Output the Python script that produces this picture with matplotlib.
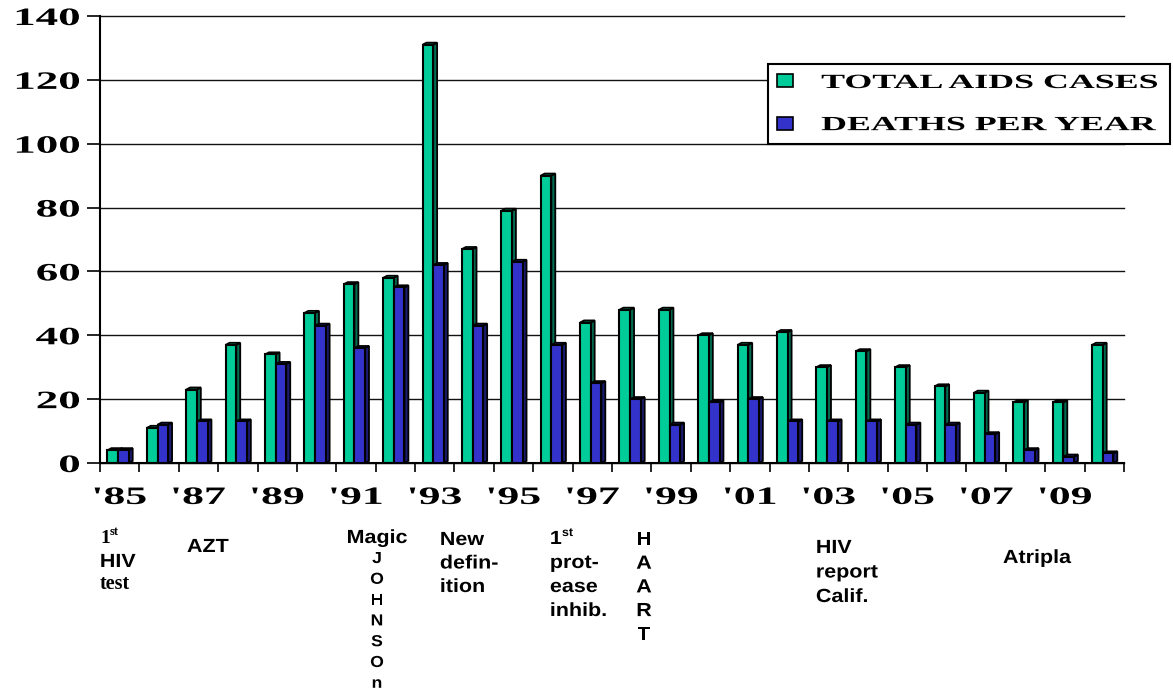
import matplotlib
matplotlib.use('Agg')
import matplotlib.pyplot as plt
import numpy as np
from matplotlib.patches import Polygon, Patch
from matplotlib.patheffects import AbstractPathEffect
from matplotlib.transforms import Affine2D

# ---------------- data ----------------
years = list(range(1985, 2011))
total_cases = [4, 11, 23, 37, 34, 47, 56, 58, 131, 67, 79, 90, 44, 48, 48,
               40, 37, 41, 30, 35, 30, 24, 22, 19, 19, 37]
deaths = [4, 12, 13, 13, 31, 43, 36, 55, 62, 43, 63, 37, 25, 20, 12,
          19, 20, 13, 13, 13, 12, 12, 9, 4, 2, 3]
series_names = ['TOTAL AIDS CASES', 'DEATHS PER YEAR']
year_labels = ["'85", "'87", "'89", "'91", "'93", "'95", "'97",
               "'99", "'01", "'03", "'05", "'07", "'09"]
y_ticks = [0, 20, 40, 60, 80, 100, 120, 140]

# ---------------- style ----------------
W, H = 1173, 692
GREEN, GREEN_SIDE = '#00CC99', '#006B50'
BLUE, BLUE_SIDE = '#3333CC', '#1A1A70'
SERIF = 'Liberation Serif'
SANS = 'Liberation Sans'


class HStretch(AbstractPathEffect):
    """Draw text glyphs stretched horizontally about an anchor."""
    def __init__(self, sx, anchor='center'):
        super().__init__()
        self.sx = sx
        self.anchor = anchor

    def draw_path(self, renderer, gc, tpath, affine, rgbFace=None):
        bb = tpath.get_extents(affine)
        if self.anchor == 'left':
            a = bb.x0
        elif self.anchor == 'right':
            a = bb.x1
        else:
            a = 0.5 * (bb.x0 + bb.x1)
        t = affine + Affine2D().translate(-a, 0).scale(self.sx, 1).translate(a, 0)
        renderer.draw_path(gc, tpath, t, rgbFace)


fig = plt.figure(figsize=(W / 100, H / 100), dpi=100)
ax = fig.add_axes([100 / W, (H - 463) / H, 1024 / W, 447 / H])

x = np.arange(len(years))
bw = 0.27          # front face width (category units)
dx, dy = 0.10, 0.65  # 3-D depth offsets


def bars3d(offset, vals, front, side, z):
    for xi, v in zip(x, vals):
        x0 = xi + offset
        ax.add_patch(Polygon([(x0 + bw, 0), (x0 + bw + dx, dy),
                              (x0 + bw + dx, v + dy), (x0 + bw, v)],
                             closed=True, fc=side, ec='black', lw=1.3, zorder=z))
        ax.add_patch(Polygon([(x0, v), (x0 + dx, v + dy),
                              (x0 + bw + dx, v + dy), (x0 + bw, v)],
                             closed=True, fc=front, ec='black', lw=1.3, zorder=z))
    ax.bar(x + offset, vals, width=bw, align='edge', color=front,
           edgecolor='black', linewidth=1.5, zorder=z + 0.1)


bars3d(0.19, total_cases, GREEN, GREEN_SIDE, 2)
bars3d(0.19 + bw, deaths, BLUE, BLUE_SIDE, 3)

ax.set_xlim(0, len(years))
ax.set_ylim(0, 140)

# grid + spines
ax.set_axisbelow(True)
ax.yaxis.grid(True, color='#111111', lw=1.0)
for gl in ax.get_ygridlines():
    gl.set_clip_on(False)
for s in ['top', 'right']:
    ax.spines[s].set_visible(False)
for s in ['left', 'bottom']:
    ax.spines[s].set_linewidth(1.5)
    ax.spines[s].set_color('black')

# y ticks
ax.set_yticks(y_ticks)
ax.set_yticklabels([str(v) for v in y_ticks], fontfamily=SERIF,
                   fontweight='bold', fontsize=18)
ax.tick_params(axis='y', direction='out', length=9.4, width=1.2, pad=5)
for lbl in ax.get_yticklabels():
    lbl.set_path_effects([HStretch(1.8, 'right')])

# x ticks: boundaries (major) + labels at centres (minor)
ax.set_xticks(np.arange(len(years) + 1))
ax.set_xticklabels([])
ax.tick_params(axis='x', which='major', direction='out', length=6.5, width=1.2)
label_pos = [i + 0.5 for i, yr in enumerate(years) if (yr - years[0]) % 2 == 0]
ax.set_xticks(label_pos, minor=True)
ax.set_xticklabels(year_labels, minor=True, fontfamily=SERIF,
                   fontweight='bold', fontsize=18)
ax.tick_params(axis='x', which='minor', length=0, pad=16.5)
for lbl in ax.get_xticklabels(minor=True):
    lbl.set_path_effects([HStretch(1.75, 'center')])

# legend
handles = [Patch(facecolor=GREEN, edgecolor='black', lw=1.2, label=series_names[0]),
           Patch(facecolor=BLUE, edgecolor='black', lw=1.2, label=series_names[1])]
leg = fig.legend(handles=handles, loc='upper left',
                 bbox_to_anchor=(768 / W, 1 - 64 / H, 402 / W, 0.0001),
                 mode='expand', borderaxespad=0, borderpad=0.45,
                 handlelength=0.8, handleheight=0.62, handletextpad=1.4,
                 labelspacing=1.1, fancybox=False, framealpha=1,
                 prop={'family': SERIF, 'weight': 'bold', 'size': 14.5})
leg.get_frame().set_edgecolor('black')
leg.get_frame().set_linewidth(1.5)
for t in leg.get_texts():
    t.set_path_effects([HStretch(1.78, 'left')])


# ---------------- event notes below the axis ----------------
def ftxt(px, py, s, family=SANS, size=13.7, stretch=1.13, ha='left', **kw):
    t = fig.text(px / W, 1 - py / H, s, fontfamily=family, fontweight='bold',
                 fontsize=size, ha=ha, va='baseline', **kw)
    if stretch != 1:
        t.set_path_effects([HStretch(stretch, ha)])
    return t


def stack(px, py0, step, lines, **kw):
    for i, s in enumerate(lines):
        ftxt(px, py0 + i * step, s, **kw)


# 1st HIV test
ftxt(100, 543, '1', family=SERIF, size=14, stretch=1)
ftxt(110, 535, 'st', family=SERIF, size=9, stretch=1)
ftxt(100, 567, 'HIV')
ftxt(100, 589, 'test', family=SERIF, size=14.5, stretch=1)
# AZT
ftxt(187, 552, 'AZT')
# Magic Johnson
ftxt(377, 543, 'Magic', ha='center')
stack(377, 563, 20.8, list('JOHNSOn'), size=11.5, ha='center', stretch=1.1)
# New definition
stack(440, 545, 23.5, ['New', 'defin-', 'ition'])
# 1st protease inhibitor
ftxt(550, 544, '1')
ftxt(562, 536, 'st', size=8.5, stretch=1.05)
stack(550, 568, 24, ['prot-', 'ease', 'inhib.'])
# HAART
stack(644, 545, 23.7, list('HAART'), ha='center')
# HIV report Calif.
stack(816, 553, 24.5, ['HIV', 'report', 'Calif.'])
# Atripla
ftxt(1003, 563, 'Atripla')

fig.savefig('out.png', dpi=100)
